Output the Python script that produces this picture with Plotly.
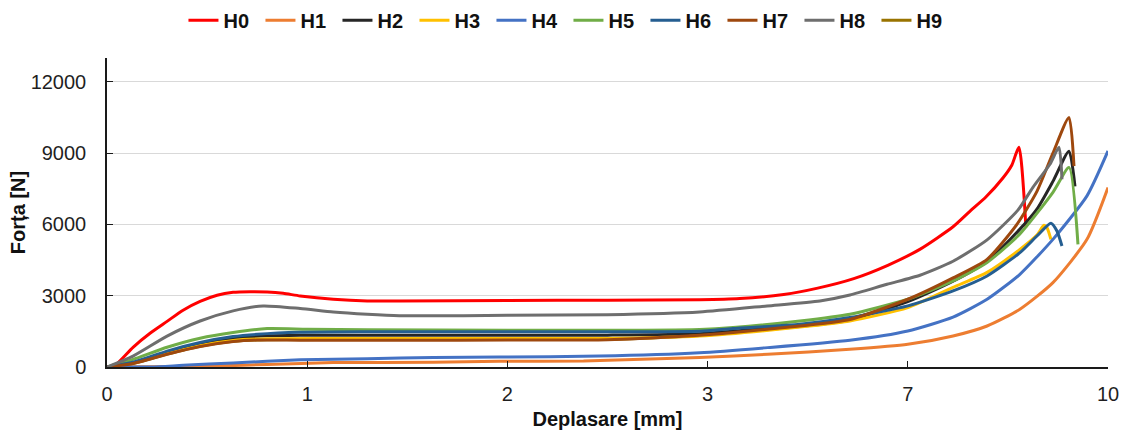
import plotly.graph_objects as go

# Deplasare axis: evenly spaced tick positions labelled 0, 1, 2, 3, 7, 10 mm
tick_pos = [0, 1, 2, 3, 4, 5]
tick_text = ["0", "1", "2", "3", "7", "10"]
force_ticks = [0, 3000, 6000, 9000, 12000]
force_tick_text = ["0", "3000", "6000", "9000", "12000"]

series_names = ["H0", "H1", "H2", "H3", "H4", "H5", "H6", "H7", "H8", "H9"]
colors = ["#FF0000", "#ED7D31", "#262626", "#FFC000", "#4472C4",
          "#70AD47", "#255E91", "#9E480E", "#6E6E6E", "#997300"]

h0_x = [0, 0.04, 0.13, 0.215, 0.30, 0.38, 0.465, 0.55, 0.63, 0.715, 0.80, 0.88, 0.965, 1.13, 1.30, 1.46,
        2.0, 2.5, 2.96, 3.16, 3.38, 3.55, 3.73, 3.90, 4.06, 4.226, 4.31, 4.39, 4.475, 4.52, 4.555, 4.59]
h0_y = [0, 70, 830, 1420, 1920, 2390, 2760, 3020, 3140, 3165, 3155, 3100, 2990, 2850, 2780, 2780,
        2800, 2810, 2830, 2880, 3050, 3320, 3720, 4280, 4950, 5900, 6550, 7150, 7950, 8500, 9250, 5880]

h1_x = [0, 0.38, 0.63, 0.80, 1.13, 1.63, 1.96, 2.38, 2.63, 2.96, 3.30, 3.71, 4.0, 4.226, 4.396, 4.56, 4.725, 4.895, 5.0]
h1_y = [0, 20, 60, 110, 185, 200, 240, 255, 320, 395, 535, 745, 955, 1305, 1725, 2430, 3550, 5370, 7550]

h2_x = [0, 0.13, 0.30, 0.465, 0.63, 0.80, 0.965, 1.5, 2.0, 2.5, 2.96, 3.461, 3.711, 4.0, 4.226, 4.396,
        4.56, 4.645, 4.725, 4.805, 4.835]
h2_y = [0, 170, 610, 960, 1200, 1310, 1335, 1335, 1340, 1340, 1400, 1750, 2030, 2750, 3610, 4450,
        5800, 6640, 7810, 9080, 7600]

h3_x = [0, 0.13, 0.30, 0.465, 0.63, 0.80, 1.5, 2.0, 2.5, 2.96, 3.461, 3.711, 4.0, 4.226, 4.396, 4.56,
        4.645, 4.68, 4.695, 4.715]
h3_y = [0, 160, 560, 900, 1120, 1190, 1195, 1200, 1200, 1300, 1680, 1935, 2500, 3350, 3980, 4950,
        5550, 5960, 5860, 5370]

h4_x = [0, 0.22, 0.38, 0.63, 0.965, 1.3, 1.63, 1.96, 2.46, 2.96, 3.30, 3.711, 4.0, 4.226, 4.396,
        4.56, 4.725, 4.895, 5.0]
h4_y = [0, 0, 70, 170, 300, 350, 395, 420, 460, 600, 815, 1125, 1515, 2100, 2850, 3900, 5370, 7200, 9090]

h5_x = [0, 0.13, 0.30, 0.465, 0.63, 0.80, 1.0, 1.3, 2.0, 2.5, 2.96, 3.127, 3.461, 3.711, 4.0, 4.226,
        4.396, 4.56, 4.725, 4.805, 4.85]
h5_y = [0, 320, 830, 1210, 1450, 1615, 1590, 1570, 1545, 1545, 1580, 1660, 1935, 2220, 2850, 3620,
        4400, 5600, 7350, 8390, 5160]

h6_x = [0, 0.13, 0.30, 0.465, 0.63, 0.75, 0.965, 1.3, 2.0, 2.5, 2.96, 3.127, 3.461, 3.711, 4.0, 4.226,
        4.396, 4.56, 4.645, 4.715, 4.745, 4.77]
h6_y = [0, 200, 670, 1030, 1280, 1375, 1460, 1480, 1480, 1480, 1500, 1615, 1800, 2080, 2570, 3200,
        3830, 4810, 5510, 6050, 5720, 5090]

h7_x = [0, 0.13, 0.30, 0.465, 0.63, 0.75, 0.965, 1.5, 2.0, 2.5, 2.96, 3.127, 3.461, 3.711, 4.0, 4.226,
        4.396, 4.545, 4.645, 4.725, 4.805, 4.83]
h7_y = [0, 150, 535, 860, 1070, 1135, 1130, 1125, 1135, 1150, 1335, 1450, 1725, 2000, 2850, 3750,
        4530, 6000, 7390, 9000, 10500, 8450]

h8_x = [0, 0.13, 0.30, 0.465, 0.63, 0.78, 0.965, 1.13, 1.30, 1.46, 2.0, 2.5, 2.96, 3.297, 3.561, 3.711,
        3.896, 4.061, 4.226, 4.396, 4.55, 4.625, 4.71, 4.755, 4.77]
h8_y = [0, 460, 1300, 1935, 2360, 2570, 2460, 2315, 2220, 2160, 2175, 2200, 2315, 2570, 2780, 3030,
        3480, 3860, 4450, 5350, 6600, 7560, 8530, 9245, 7900]

h9_x = [0, 0.13, 0.30, 0.465, 0.63, 0.80, 1.5, 2.0, 2.5, 2.96, 3.461, 3.711, 3.95]
h9_y = [0, 150, 540, 870, 1080, 1150, 1155, 1160, 1160, 1320, 1700, 1970, 2600]

xs = [h0_x, h1_x, h2_x, h3_x, h4_x, h5_x, h6_x, h7_x, h8_x, h9_x]
ys = [h0_y, h1_y, h2_y, h3_y, h4_y, h5_y, h6_y, h7_y, h8_y, h9_y]

# H9 is drawn first so it sits beneath the other curves; legendrank keeps H0..H9 order
draw_order = [9, 0, 1, 2, 3, 4, 5, 6, 7, 8]

fig = go.Figure()
for i in draw_order:
    fig.add_trace(go.Scatter(
        x=xs[i], y=ys[i], name=series_names[i], mode="lines", legendrank=i + 1,
        line=dict(color=colors[i], width=3, shape="spline", smoothing=0.6),
    ))

font_family = "Liberation Sans, Arial, sans-serif"

fig.update_layout(
    width=1127, height=433,
    margin=dict(l=107, r=19, t=58, b=66, autoexpand=False),
    paper_bgcolor="white", plot_bgcolor="white",
    font=dict(family=font_family, size=20, color="#1f1f1f"),
    showlegend=True,
    legend=dict(
        orientation="h", x=0.461, xanchor="center",
        yref="container", y=0.953, yanchor="middle",
        font=dict(family=font_family, size=20, color="#111111", weight="bold"),
        itemwidth=30, tracegroupgap=0, entrywidth=32, entrywidthmode="pixels",
    ),
    xaxis=dict(
        range=[0, 5], tickmode="array", tickvals=tick_pos, ticktext=tick_text,
        automargin=False,
        showgrid=False, zeroline=False,
        showline=True, linecolor="#1a1a1a", linewidth=1.5,
        ticks="inside", ticklen=6, tickcolor="#1a1a1a",
        ticklabelstandoff=8,
        tickfont=dict(size=20, color="#1f1f1f"),
        title=dict(text="<b>Deplasare [mm]</b>", font=dict(size=20, color="#111111"), standoff=8),
    ),
    yaxis=dict(
        range=[0, 13000], tickmode="array", tickvals=force_ticks, ticktext=force_tick_text,
        automargin=False,
        showgrid=True, gridcolor="#D9D9D9", gridwidth=1, zeroline=False,
        showline=True, linecolor="#1a1a1a", linewidth=1.5,
        ticks="inside", ticklen=6, tickcolor="#1a1a1a",
        ticklabelstandoff=15,
        tickfont=dict(size=20, color="#1f1f1f"),
        title=dict(text="<b>Forța [N]</b>", font=dict(size=20, color="#111111"), standoff=0),
    ),
)

fig.write_html("out.html")
